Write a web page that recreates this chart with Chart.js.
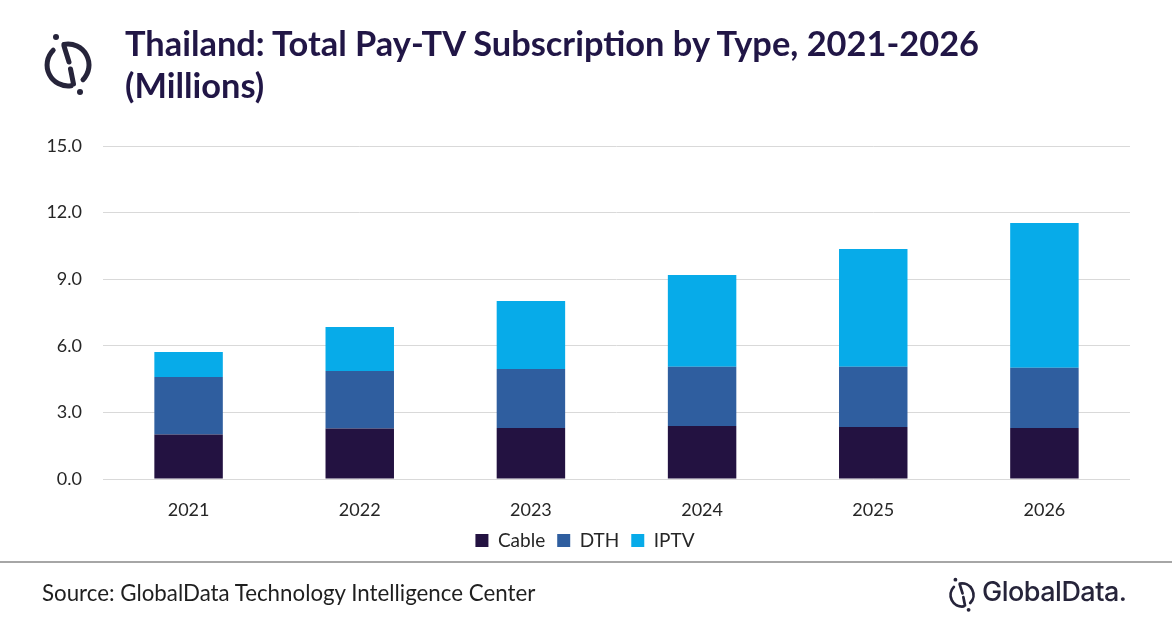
<!DOCTYPE html>
<html>
<head>
<meta charset="utf-8">
<script src="https://cdn.jsdelivr.net/npm/chart.js@4.4.0/dist/chart.umd.min.js"></script>
<style>
  html, body { margin: 0; padding: 0; background: #fff; }
  #wrap { position: relative; width: 1172px; height: 628px; overflow: hidden; font-family: Lato, "Open Sans", sans-serif; }
  #chart { position: absolute; left: 0; top: 0; }
  .title { position: absolute; left: 125px; top: 22px; font-size: 34.4px; font-weight: 700; color: #211646; line-height: 42px; white-space: nowrap; }
  .rule { position: absolute; left: 0; top: 561px; width: 1172px; height: 2px; background: #a6a6a6; }
  .source { position: absolute; left: 42px; top: 579px; font-size: 22.3px; color: #1f1f1f; white-space: nowrap; }
  .brand { position: absolute; left: 982px; top: 575px; font-family: Inter, Roboto, sans-serif; font-size: 27px; font-weight: 500; color: #26243a; letter-spacing: -0.5px; }
  svg { position: absolute; }
</style>
</head>
<body>
<div id="wrap">
  <canvas id="chart" width="1172" height="628"></canvas>

  <svg style="left:37px;top:31px" width="62" height="68" viewBox="-31 -34 62 68">
    <g fill="none" stroke="#26243a" stroke-width="5" stroke-linecap="round">
      <path d="M -14.8,-14.8 A 21 21 0 0 0 3,20.8"/>
      <path d="M -4,-20.6 A 21 21 0 0 1 15,14.7"/>
      <path d="M -4,-19 L 1,-3"/>
      <path d="M 2.5,4 L 5.5,19"/>
    </g>
    <circle cx="-12" cy="-28" r="3" fill="#26243a"/>
    <circle cx="12" cy="27" r="3" fill="#26243a"/>
  </svg>

  <div class="title">Thailand: Total Pay-TV Subscription by Type, 2021-2026<br>(Millions)</div>

  <div class="rule"></div>
  <div class="source">Source: GlobalData Technology Intelligence Center</div>

  <svg style="left:945px;top:576px" width="34" height="38" viewBox="-31 -34 62 68">
    <g fill="none" stroke="#26243a" stroke-width="5" stroke-linecap="round">
      <path d="M -14.8,-14.8 A 21 21 0 0 0 3,20.8"/>
      <path d="M -4,-20.6 A 21 21 0 0 1 15,14.7"/>
      <path d="M -4,-19 L 1,-3"/>
      <path d="M 2.5,4 L 5.5,19"/>
    </g>
    <circle cx="-12" cy="-28" r="3.5" fill="#26243a"/>
    <circle cx="12" cy="27" r="3.5" fill="#26243a"/>
  </svg>
  <div class="brand">GlobalData.</div>
</div>

<script>
// values, millions
const years = ['2021', '2022', '2023', '2024', '2025', '2026']
const cable = [2.0, 2.27, 2.3, 2.39, 2.34, 2.3]
const dth = [2.6, 2.59, 2.65, 2.67, 2.72, 2.71]
const iptv = [1.12, 1.99, 3.07, 4.13, 5.3, 6.52]
const yTicks = [0, 3, 6, 9, 12, 15]

const font = { family: 'Lato, "Open Sans", sans-serif', size: 18 }

let ctx = document.getElementById('chart').getContext('2d')
let chart = new Chart(ctx, {
    type: 'bar',
    data: {
        labels: years,
        datasets: [
            { label: 'Cable', data: cable, backgroundColor: '#231241' },
            { label: 'DTH', data: dth, backgroundColor: '#2f5e9f' },
            { label: 'IPTV', data: iptv, backgroundColor: '#07abe9' }
        ]
    },
    options: {
        responsive: false,
        animation: false,
        devicePixelRatio: 1,
        categoryPercentage: 1,
        barPercentage: 0.4,
        layout: {
            padding: { left: 40, right: 42, top: 146, bottom: 68 }
        },
        plugins: {
            title: { display: false },
            tooltip: { enabled: false },
            legend: {
                position: 'bottom',
                labels: {
                    font: { family: font.family, size: 19 },
                    color: '#262626',
                    boxWidth: 13,
                    boxHeight: 13,
                    padding: 12
                }
            }
        },
        scales: {
            x: {
                stacked: true,
                grid: { display: false, drawTicks: false },
                border: { display: false },
                ticks: { font: font, color: '#262626', padding: 20 },
                afterFit: (scale) => { scale.height = 40 }
            },
            y: {
                stacked: true,
                min: 0,
                max: 15,
                afterBuildTicks: (scale) => { scale.ticks = yTicks.map(v => ({ value: v })) },
                grid: { color: '#d9d9d9', lineWidth: 1, drawTicks: false },
                border: { display: false },
                ticks: {
                    font: font,
                    color: '#262626',
                    padding: 21,
                    callback: (v) => v.toFixed(1)
                },
                afterFit: (scale) => { scale.width = 63 }
            }
        }
    }
})
</script>
</body>
</html>
